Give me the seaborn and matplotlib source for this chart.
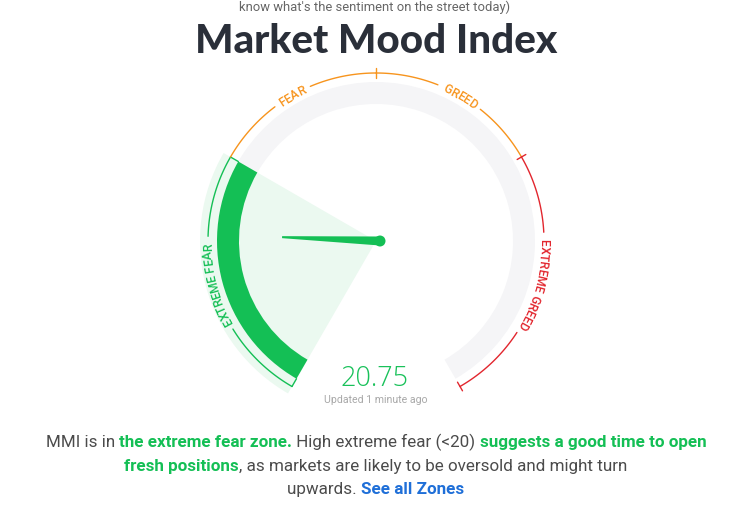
import numpy as np
import matplotlib
matplotlib.use("Agg")
import matplotlib.pyplot as plt
import seaborn as sns
from matplotlib.patches import Wedge, Circle, Polygon

# --- data ---
zone_names = ["EXTREME FEAR", "FEAR", "GREED", "EXTREME GREED"]
zone_edges = [0, 30, 50, 70, 100]
zone_colors = ["#14bf55", "#f7941d", "#f7941d", "#e2262e"]
mmi_value = 20.75
active_zone = 0
title = "Market Mood Index"
subtitle_cut = "know what's the sentiment on the street today)"
updated_text = "Updated 1 minute ago"

GREEN = "#14bf55"
GREY_TXT = "#4b4b4b"
BLUE = "#1f6fd8"

line1 = [("MMI is in ", GREY_TXT, "normal"),
         ("the extreme fear zone.", GREEN, "bold"),
         (" High extreme fear (<20) ", GREY_TXT, "normal"),
         ("suggests a good time to open", GREEN, "bold")]
line2 = [("fresh positions", GREEN, "bold"),
         (", as markets are likely to be oversold and might turn", GREY_TXT, "normal")]
line3 = [("upwards. ", GREY_TXT, "normal"),
         ("See all Zones", BLUE, "bold")]

sns.set_theme(style="white")
plt.rcParams["font.family"] = ["Roboto", "DejaVu Sans"]

W, H = 753, 510
fig = plt.figure(figsize=(W / 100, H / 100), dpi=100)
ax = fig.add_axes([0, 0, 1, 1])
ax.set_xlim(0, W)
ax.set_ylim(0, H)
ax.axis("off")
renderer = fig.canvas.get_renderer()


def Y(py):
    return H - py


cx, cy = 376, Y(242)
r_out, r_in = 159, 137
r_line = 168
r_glow = 176


def ang(v):
    return 240 - 3 * v


def arc(r, a0, a1, n=120):
    t = np.radians(np.linspace(a0, a1, n))
    return cx + r * np.cos(t), cy + r * np.sin(t)


def text_width(s, **kw):
    t = ax.text(0, 0, "|" + s + "|", **kw)
    w = t.get_window_extent(renderer).width
    t.remove()
    t = ax.text(0, 0, "||", **kw)
    w0 = t.get_window_extent(renderer).width
    t.remove()
    return w - w0


def fit_size(s, target, base=20, **kw):
    return base * target / text_width(s, fontsize=base, **kw)


def rich_line(segments, xc, y, fs):
    widths = [text_width(s, fontsize=fs, color=c, fontweight=w) for s, c, w in segments]
    x = xc - sum(widths) / 2
    for (s, c, w), wd in zip(segments, widths):
        ax.text(x, y, s, fontsize=fs, color=c, fontweight=w, ha="left", va="baseline")
        x += wd


def curved_label(s, a_center, r, color, fs):
    widths = [text_width(ch, fontsize=fs, fontweight="medium") for ch in s]
    total = sum(widths)
    pos = -total / 2
    for ch, w in zip(s, widths):
        a = a_center - np.degrees((pos + w / 2) / r)
        t = np.radians(a)
        ax.text(cx + r * np.cos(t), cy + r * np.sin(t), ch, fontsize=fs, color=color,
                rotation=a - 90, rotation_mode="anchor", ha="center", va="center",
                fontweight="medium")
        pos += w
    return total


# glow wedge behind the active zone
a_act0, a_act1 = ang(zone_edges[active_zone + 1]), ang(zone_edges[active_zone])
ax.add_patch(Wedge((cx, cy), r_glow, a_act0, a_act1, color="#ebf9f0", lw=0, zorder=1))

# grey track and active ring
ax.add_patch(Wedge((cx, cy), r_out, ang(100), ang(0), width=r_out - r_in,
                   color="#f5f5f7", lw=0, zorder=2))
ax.add_patch(Wedge((cx, cy), r_out, a_act0, a_act1, width=r_out - r_in,
                   color=GREEN, lw=0, zorder=3))

# zone lines with labels
label_fs = fit_size("EXTREME FEAR", 86, fontweight="medium")
for i, name in enumerate(zone_names):
    a0, a1 = ang(zone_edges[i]), ang(zone_edges[i + 1])
    amid = ang((zone_edges[i] + zone_edges[i + 1]) / 2)
    L = curved_label(name, amid, r_line, zone_colors[i], label_fs)
    gap = np.degrees((L / 2 + 6) / r_line)
    for s0, s1 in [(a0, amid + gap), (amid - gap, a1)]:
        xs, ys = arc(r_line, s0, s1)
        sns.lineplot(x=xs, y=ys, sort=False, estimator=None, ax=ax,
                     color=zone_colors[i], lw=1, zorder=4)
    if i == active_zone:
        for a in (a0, a1):
            t = np.radians(a)
            ax.plot([cx + r_out * np.cos(t), cx + r_line * np.cos(t)],
                    [cy + r_out * np.sin(t), cy + r_line * np.sin(t)],
                    color=zone_colors[i], lw=1, zorder=4)

# boundary ticks
for k in range(1, len(zone_edges)):
    if k - 1 == active_zone or k == active_zone:
        continue
    col = zone_colors[min(k, len(zone_names) - 1)]
    t = np.radians(ang(zone_edges[k]))
    ax.plot([cx + (r_line - 5) * np.cos(t), cx + (r_line + 5) * np.cos(t)],
            [cy + (r_line - 5) * np.sin(t), cy + (r_line + 5) * np.sin(t)],
            color=col, lw=1, zorder=4)

# needle
a = np.radians(ang(mmi_value))
d = np.array([np.cos(a), np.sin(a)])
n = np.array([-np.sin(a), np.cos(a)])
c = np.array([cx + 4, cy])
L = 98
pts = [c + n * 4.5, c + d * L + n * 1, c + d * L - n * 1, c - n * 4.5]
ax.add_patch(Polygon(pts, closed=True, color=GREEN, lw=0, zorder=6))
ax.add_patch(Circle(tuple(c), 5.5, color=GREEN, lw=0, zorder=6))

# value and update time
fs_val = fit_size(f"{mmi_value:.2f}", 68, family="Open Sans", fontweight="light")
ax.text(375, Y(386), f"{mmi_value:.2f}", fontsize=fs_val, color="#19c15a",
        family="Open Sans", fontweight="light", ha="center", va="baseline")
fs_up = fit_size(updated_text, 103)
ax.text(376, Y(403), updated_text, fontsize=fs_up, color="#a8a8a8",
        ha="center", va="baseline")

# title and sub-heading fragment above it
fs_title = fit_size(title, 362, family="Lato", fontweight="black")
ax.text(376, Y(53), title, fontsize=fs_title, color="#2a2f39", family="Lato",
        fontweight="black", ha="center", va="baseline")
fs_sub = fit_size(subtitle_cut, 270)
ax.text(375, Y(11), subtitle_cut, fontsize=fs_sub, color="#666666",
        ha="center", va="baseline")

# description
fs_body = fit_size("".join(s for s, _, _ in line1), 675 * 0.97)
rich_line(line1, 376, Y(447), fs_body)
rich_line(line2, 376, Y(471), fs_body)
rich_line(line3, 376, Y(494), fs_body)

fig.savefig("out.png", dpi=100)
